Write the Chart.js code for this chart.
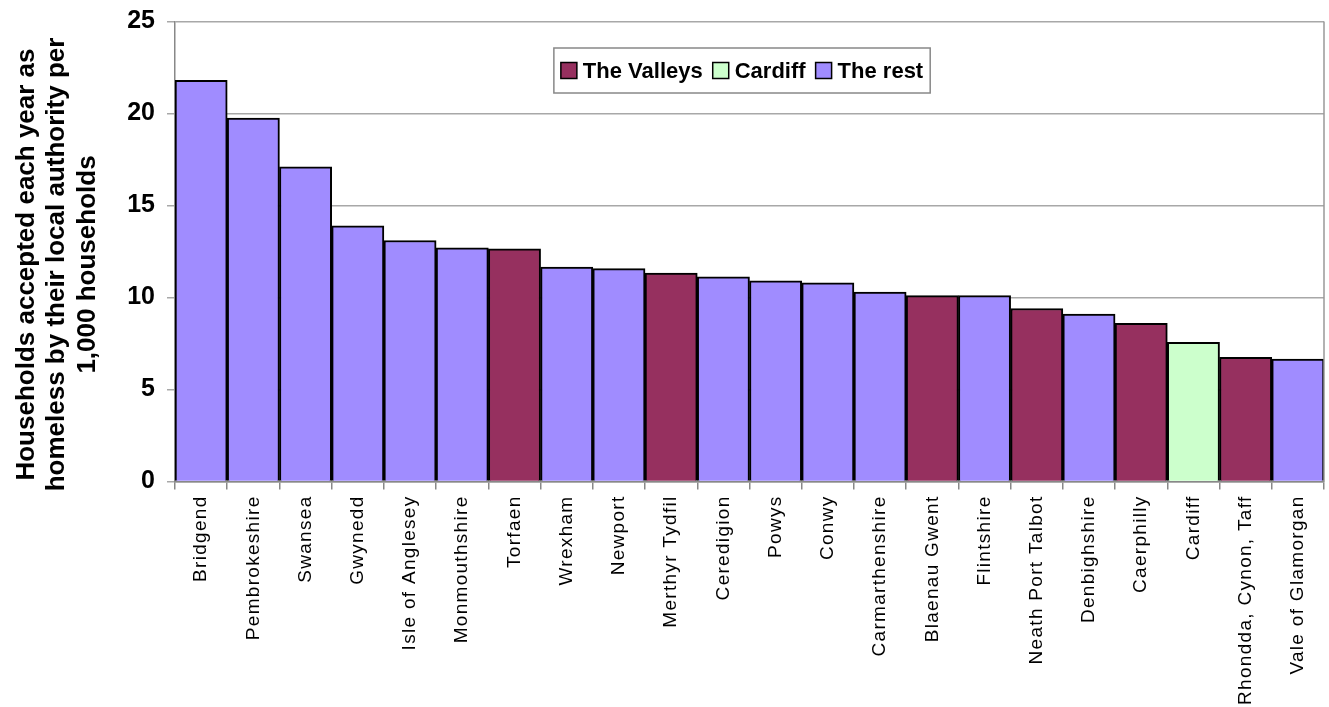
<!DOCTYPE html>
<html>
<head>
<meta charset="utf-8">
<script src="https://cdn.jsdelivr.net/npm/chart.js@4.4.0/dist/chart.umd.min.js"></script>
<style>
html,body{margin:0;padding:0;background:#fff;}
#wrap{width:1329px;height:707px;position:relative;}
</style>
</head>
<body>
<div id="wrap"><canvas id="c" width="1329" height="707"></canvas></div>
<script>
const categories = ["Bridgend","Pembrokeshire","Swansea","Gwynedd","Isle of Anglesey","Monmouthshire","Torfaen","Wrexham","Newport","Merthyr Tydfil","Ceredigion","Powys","Conwy","Carmarthenshire","Blaenau Gwent","Flintshire","Neath Port Talbot","Denbighshire","Caerphilly","Cardiff","Rhondda, Cynon, Taff","Vale of Glamorgan"];
const values = [21.8,19.75,17.1,13.9,13.1,12.7,12.65,11.65,11.57,11.33,11.13,10.9,10.8,10.3,10.1,10.1,9.4,9.1,8.6,7.56,6.75,6.66];
const groups = ["rest","rest","rest","rest","rest","rest","valleys","rest","rest","valleys","rest","rest","rest","rest","valleys","rest","valleys","rest","valleys","cardiff","valleys","rest"];
const seriesNames = ["The Valleys","Cardiff","The rest"];
const seriesKeys = ["valleys","cardiff","rest"];
const seriesColors = ["#96305F","#CCFFCC","#A08CFF"];
const yTicks = [0,5,10,15,20,25];
const yTitle = ["Households accepted each year as","homeless by their local authority per","1,000 households"];

const FONT = "'Liberation Sans', Arial, sans-serif";

const datasets = seriesKeys.map((k,i)=>({
  label: seriesNames[i],
  data: values.map((v,j)=> groups[j]===k ? v : null),
  backgroundColor: seriesColors[i],
  borderColor: "#000",
  borderWidth: 2,
  borderSkipped: "bottom",
  barPercentage: 1.0,
  categoryPercentage: 1.0
}));

const spacing = {
  id:'spacing',
  afterLayout(chart){
    const sx = chart.scales.x;
    if (sx && !sx._patched) {
      const orig = sx.drawLabels;
      sx.drawLabels = function(area){
        const ctx = this.ctx;
        ctx.save();
        try { ctx.letterSpacing = '1.3px'; } catch(e) {}
        orig.call(this, area);
        ctx.restore();
      };
      sx._patched = true;
    }
    const sy = chart.scales.y;
    if (sy && !sy._patched) {
      const origT = sy.drawTitle;
      sy.drawTitle = function(){
        const ctx = this.ctx;
        ctx.save();
        ctx.translate(0, 13);
        origT.apply(this, arguments);
        ctx.restore();
      };
      sy._patched = true;
    }
  }
};

const frameAndLegend = {
  id:'frameAndLegend',
  afterDraw(chart){
    const {ctx, chartArea:a} = chart;
    ctx.save();
    ctx.strokeStyle = '#999';
    ctx.lineWidth = 1.5;
    ctx.beginPath();
    ctx.moveTo(a.right, a.top); ctx.lineTo(a.right, a.bottom);
    ctx.stroke();

    // legend
    ctx.font = "bold 22px " + FONT;
    const box = 16, gap = 6, itemGap = 10, padX = 7;
    const widths = seriesNames.map(n => ctx.measureText(n).width);
    let total = padX*2;
    widths.forEach((w,i)=>{ total += box + gap + w + (i<widths.length-1?itemGap:0); });
    const cx = a.left + (a.right - a.left) * 0.4935;
    const top = 48, h = 45;
    const left = cx - total/2;
    ctx.fillStyle = '#fff';
    ctx.fillRect(left, top, total, h);
    ctx.strokeStyle = '#888';
    ctx.lineWidth = 1.5;
    ctx.strokeRect(left, top, total, h);
    let x = left + padX;
    const my = top + h/2;
    seriesNames.forEach((n,i)=>{
      ctx.fillStyle = seriesColors[i];
      ctx.fillRect(x, my - box/2, box, box);
      ctx.strokeStyle = '#000';
      ctx.lineWidth = 1.5;
      ctx.strokeRect(x, my - box/2, box, box);
      x += box + gap;
      ctx.fillStyle = '#000';
      ctx.textBaseline = 'middle';
      ctx.textAlign = 'left';
      ctx.fillText(n, x, my + 1);
      x += widths[i] + itemGap;
    });
    ctx.restore();
  }
};

Chart.defaults.font.family = FONT;
Chart.defaults.color = '#000';

new Chart(document.getElementById('c'), {
  type: 'bar',
  data: { labels: categories, datasets },
  plugins: [spacing, frameAndLegend],
  options: {
    responsive: false,
    animation: false,
    layout: { padding: { left: 0, right: 5, top: 21.5, bottom: 0 } },
    plugins: {
      tooltip: { enabled: false },
      legend: { display: false }
    },
    scales: {
      x: {
        stacked: true,
        offset: true,
        afterFit(scale){ scale.height = 225.5; },
        grid: { display: true, drawOnChartArea: false, drawTicks: true, tickLength: 8, color: '#888', lineWidth: 1.5, offset: true },
        border: { display: true, color: '#888', width: 1.5 },
        ticks: { autoSkip: false, maxRotation: 90, minRotation: 90, font: { size: 19 }, color: '#000', padding: 6 }
      },
      y: {
        stacked: true,
        min: 0, max: 25,
        afterBuildTicks(scale){ scale.ticks = yTicks.map(v=>({value:v})); },
        afterFit(scale){ scale.width = 175; scale.paddingTop = 0; scale.paddingBottom = 0; },
        grid: { color: '#a8a8a8', lineWidth: 1.5, tickLength: 8 },
        border: { display: true, color: '#888', width: 1.5 },
        ticks: { font: { size: 25, weight: 'bold' }, color: '#000', padding: 12 },
        title: { display: true, text: yTitle, font: { size: 26, weight: 'bold', lineHeight: 1.16 }, color: '#000', padding: { top: 12, bottom: 0 } }
      }
    }
  }
});
</script>
</body>
</html>
